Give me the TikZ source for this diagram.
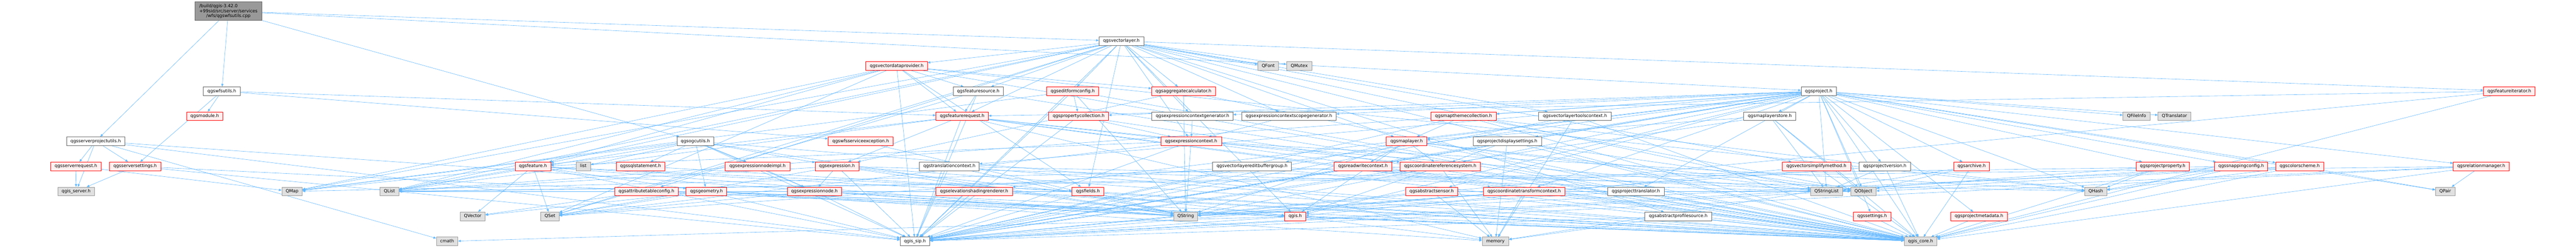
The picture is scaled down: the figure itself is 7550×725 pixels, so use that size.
\documentclass[tikz,border=0pt]{standalone}
\usepackage{fontspec}
\setmainfont{DejaVu Sans}
\usepackage{xcolor}
\usetikzlibrary{arrows.meta,backgrounds}
\definecolor{edgeBlue}{HTML}{63B8FF}
\definecolor{cutRed}{HTML}{FF0000}
\definecolor{cutFill}{HTML}{FFF0F0}
\definecolor{sysFill}{HTML}{E0E0E0}
\definecolor{sysLine}{HTML}{999999}
\definecolor{incLine}{HTML}{666666}
\tikzset{
incbox/.style = {rectangle, draw=incLine, fill=white, line width=1pt,
                 minimum width=#1, minimum height=25.4, inner sep=0pt,
                 text height=9.6pt, text depth=2.9pt},
incbox/.default = 100 % box width in px
}
\tikzset{
cutbox/.style = {incbox=#1, draw=cutRed, fill=cutFill},
cutbox/.default = 100,
sysbox/.style = {incbox=#1, draw=sysLine, fill=sysFill},
sysbox/.default = 60
}
\tikzset{
srcbox/.style = {rectangle, draw=incLine, fill=sysLine, line width=1pt,
                 minimum width=195, minimum height=54.6, inner sep=0pt, align=center}
}
\tikzset{
dep/.style = {-{Triangle[length=8pt,width=6.5pt]}, edgeBlue, line width=0.9pt}
}

\begin{document}
\begin{tikzpicture}[x=1pt, y=-1pt, font=\fontsize{12.85}{14.8}\selectfont]
  \begin{scope}[on background layer]
    \fill[white] (0,0) rectangle (7550,725);
  \end{scope}
  \useasboundingbox (0,0) rectangle (7550,725);

  % rank 0 and 1
  \node[srcbox] (wfsUtilsCpp) at (669.5,32.8) {\rlap{/build/qgis-3.42.0}\phantom{+99sid/src/server/services}\\+99sid/src/server/services\\/wfs/qgswfsutils.cpp};
  \node[incbox=131] (vectorLayer) at (3286.5,120.4) {qgsvectorlayer.h};

  % rank 2
  \node[cutbox=180] (vectorDataProvider) at (2628,193.5) {qgsvectordataprovider.h};
  \node[sysbox=60] (qFont) at (3717,193.5) {QFont};
  \node[sysbox=74] (qMutex) at (3808,193.5) {QMutex};

  % rank 3
  \node[incbox=108] (wfsUtils) at (650,267) {qgswfsutils.h};
  \node[incbox=146] (featureSource) at (2867,267) {qgsfeaturesource.h};
  \node[cutbox=152] (editFormConfig) at (3144,267) {qgseditformconfig.h};
  \node[cutbox=187] (aggregateCalc) at (3468.5,267) {qgsaggregatecalculator.h};
  \node[incbox=103] (project) at (5330.5,267) {qgsproject.h};
  \node[cutbox=151] (featureIterator) at (7354.5,267) {qgsfeatureiterator.h};

  % rank 4
  \node[cutbox=106] (module) at (600,340.3) {qgsmodule.h};
  \node[cutbox=154] (featureRequest) at (2820,340.3) {qgsfeaturerequest.h};
  \node[cutbox=175] (propertyCollection) at (3161.5,340.3) {qgspropertycollection.h};
  \node[incbox=238] (exprCtxGen) at (3495,340.3) {qgsexpressioncontextgenerator.h};
  \node[incbox=277] (exprCtxScopeGen) at (3777.5,340.3) {qgsexpressioncontextscopegenerator.h};
  \node[cutbox=191] (mapThemeColl) at (4289.5,340.3) {qgsmapthemecollection.h};
  \node[incbox=212] (vlToolsCtx) at (4616,340.3) {qgsvectorlayertoolscontext.h};
  \node[incbox=152] (mapLayerStore) at (5187,340.3) {qgsmaplayerstore.h};
  \node[sysbox=80] (qFileInfo) at (6262,340.3) {QFileInfo};
  \node[sysbox=96] (qTranslator) at (6373,340.3) {QTranslator};

  % rank 5
  \node[incbox=171] (serverProjectUtils) at (280.5,413.5) {qgsserverprojectutils.h};
  \node[incbox=108] (ogcUtils) at (2038,413.5) {qgsogcutils.h};
  \node[cutbox=191] (wfsServiceExc) at (2522.5,413.5) {qgswfsserviceexception.h};
  \node[cutbox=178] (exprContext) at (3491,413.5) {qgsexpressioncontext.h};
  \node[cutbox=119] (mapLayer) at (4122.5,413.5) {qgsmaplayer.h};
  \node[incbox=201] (projDisplaySettings) at (4417.5,413.5) {qgsprojectdisplaysettings.h};

  % rank 6
  \node[cutbox=147] (serverRequest) at (222.5,487.1) {qgsserverrequest.h};
  \node[cutbox=152] (serverSettings) at (396,487.1) {qgsserversettings.h};
  \node[cutbox=104] (feature) at (1562,487.1) {qgsfeature.h};
  \node[sysbox=43] (stdList) at (1709.5,487.1) {list};
  \node[cutbox=143] (sqlStatement) at (1877.5,487.1) {qgssqlstatement.h};
  \node[cutbox=190] (exprNodeImpl) at (2220,487.1) {qgsexpressionnodeimpl.h};
  \node[cutbox=128] (expression) at (2453,487.1) {qgsexpression.h};
  \node[incbox=175] (translationCtx) at (2782.5,487.1) {qgstranslationcontext.h};
  \node[incbox=231] (vlEditBufferGroup) at (3669.5,487.1) {qgsvectorlayereditbuffergroup.h};
  \node[cutbox=169] (readWriteCtx) at (3994.5,487.1) {qgsreadwritecontext.h};
  \node[cutbox=236] (crs) at (4221,487.1) {qgscoordinatereferencesystem.h};
  \node[cutbox=201] (vectorSimplify) at (5323.5,487.1) {qgsvectorsimplifymethod.h};
  \node[incbox=150] (projectVersion) at (5524,487.1) {qgsprojectversion.h};
  \node[cutbox=105] (archive) at (5778.5,487.1) {qgsarchive.h};
  \node[cutbox=155] (projectProperty) at (6338.5,487.1) {qgsprojectproperty.h};
  \node[cutbox=155] (snappingConfig) at (6568.5,487.1) {qgssnappingconfig.h};
  \node[cutbox=140] (colorScheme) at (6740,487.1) {qgscolorscheme.h};
  \node[cutbox=164] (relationManager) at (7272,487.1) {qgsrelationmanager.h};

  % rank 7
  \node[sysbox=108] (qgisServer) at (223,560.6) {qgis\_server.h};
  \node[sysbox=60] (qMap) at (856,560.6) {QMap};
  \node[sysbox=55] (qList) at (1141.5,560.6) {QList};
  \node[cutbox=185] (attrTableConfig) at (1894.5,560.6) {qgsattributetableconfig.h};
  \node[cutbox=119] (geometry) at (2070.5,560.6) {qgsgeometry.h};
  \node[cutbox=160] (exprNode) at (2387,560.6) {qgsexpressionnode.h};
  \node[cutbox=224] (elevationShading) at (2855,560.6) {qgselevationshadingrenderer.h};
  \node[cutbox=93] (fields) at (3188.5,560.6) {qgsfields.h};
  \node[cutbox=152] (abstractSensor) at (4196,560.6) {qgsabstractsensor.h};
  \node[cutbox=238] (ctContext) at (4467,560.6) {qgscoordinatetransformcontext.h};
  \node[incbox=165] (projectTranslator) at (4794.5,560.6) {qgsprojecttranslator.h};
  \node[sysbox=93] (qStringList) at (5353.5,560.6) {QStringList};
  \node[sysbox=75] (qObject) at (5461.5,560.6) {QObject};
  \node[sysbox=65] (qHash) at (6142.5,560.6) {QHash};
  \node[sysbox=57] (qPair) at (7166.5,560.6) {QPair};

  % rank 8
  \node[sysbox=73] (qVector) at (1385.5,633.6) {QVector};
  \node[sysbox=54] (qSet) at (1612,633.6) {QSet};
  \node[sysbox=70] (qString) at (3475,633.6) {QString};
  \node[cutbox=62] (qgisH) at (3796,633.6) {qgis.h};
  \node[incbox=195] (abstractProfileSource) at (4918.5,633.6) {qgsabstractprofilesource.h};
  \node[cutbox=110] (settings) at (5487,633.6) {qgssettings.h};
  \node[cutbox=166] (projectMetadata) at (5800,633.6) {qgsprojectmetadata.h};

  % rank 9
  \node[sysbox=63] (cmath) at (1310.5,706.9) {cmath};
  \node[incbox=87] (qgisSip) at (2681.5,706.9) {qgis\_sip.h};
  \node[sysbox=78] (memory) at (4383,706.9) {memory};
  \node[sysbox=96] (qgisCore) at (5629,706.9) {qgis\_core.h};

  % include edges, one path per including file
  \begin{scope}[on background layer]
    \draw[dep] (wfsUtilsCpp) edge (wfsUtils) edge (serverProjectUtils) edge (ogcUtils) edge (vectorLayer) edge (project);
    \draw[dep] (wfsUtils) edge (module) edge (serverSettings) edge (featureRequest) edge (wfsServiceExc);
    \draw[dep] (serverProjectUtils) edge (serverRequest) edge (serverSettings) edge (qgisServer) edge (qgisSip) edge (qString) edge (cmath);
    \draw[dep] (serverRequest) edge (qgisServer) edge (qMap);
    \draw[dep] (serverSettings) edge (qgisServer) edge (qString) edge (qgisSip);
    \draw[dep] (vectorLayer) edge (vectorDataProvider) edge (qFont) edge (qMutex) edge (featureSource) edge (editFormConfig)
      edge (aggregateCalc) edge (featureIterator) edge (featureRequest) edge (exprCtxGen) edge (exprCtxScopeGen)
      edge (exprContext) edge (vlToolsCtx) edge (mapLayer) edge (feature) edge (fields) edge (vectorSimplify)
      edge (attrTableConfig) edge (abstractProfileSource) edge (qgisH) edge (qMap) edge (qSet) edge (qList)
      edge (qStringList) edge (qgisCore) edge (qgisSip);
    \draw[dep] (vectorDataProvider) edge (featureSource) edge (featureRequest) edge (aggregateCalc) edge (feature) edge (fields)
      edge (qSet) edge (qMap) edge (qHash) edge (qList) edge (qgisCore) edge (qgisSip);
    \draw[dep] (featureSource) edge (featureRequest) edge (qSet) edge (qgisCore) edge (qgisSip);
    \draw[dep] (editFormConfig) edge (propertyCollection) edge (qMap) edge (qString) edge (qgisCore) edge (qgisSip);
    \draw[dep] (aggregateCalc) edge (expression) edge (qString) edge (qgisCore);
    \draw[dep] (project) edge (qFileInfo) edge (qTranslator) edge (mapLayerStore) edge (mapThemeColl) edge (mapLayer)
      edge (projDisplaySettings) edge (crs) edge (ctContext) edge (readWriteCtx) edge (translationCtx)
      edge (projectTranslator) edge (projectVersion) edge (archive) edge (settings) edge (projectMetadata)
      edge (projectProperty) edge (snappingConfig) edge (colorScheme) edge (relationManager) edge (qPair)
      edge (qHash) edge (qStringList) edge (qObject) edge (qList) edge (qgisCore) edge (qgisSip) edge (qgisH)
      edge (exprCtxGen) edge (exprCtxScopeGen) edge (propertyCollection) edge (vlEditBufferGroup)
      edge (elevationShading) edge (abstractSensor);
    \draw[dep] (featureIterator) edge (featureRequest) edge (qgisCore) edge (qgisSip);
    \draw[dep] (featureRequest) edge (feature) edge (expression) edge (exprContext) edge (crs) edge (ctContext)
      edge (qList) edge (memory) edge (qgisCore) edge (qgisSip);
    \draw[dep] (propertyCollection) edge (exprContext) edge (qgisCore) edge (qgisSip);
    \draw[dep] (exprCtxGen) edge (exprContext);
    \draw[dep] (exprCtxScopeGen) edge (exprContext);
    \draw[dep] (mapThemeColl) edge (mapLayer) edge (qObject) edge (qHash) edge (qgisCore) edge (qgisSip);
    \draw[dep] (vlToolsCtx) edge (memory) edge (qgisCore) edge (qgisSip);
    \draw[dep] (mapLayerStore) edge (mapLayer) edge (qObject) edge (qStringList) edge (qgisCore) edge (qgisSip);
    \draw[dep] (ogcUtils) edge (sqlStatement) edge (exprNodeImpl) edge (expression) edge (geometry) edge (exprNode)
      edge (stdList) edge (qMap) edge (qList) edge (qString) edge (qgisCore) edge (qgisSip);
    \draw[dep] (wfsServiceExc) edge (qString);
    \draw[dep] (exprContext) edge (feature) edge (qString) edge (qStringList) edge (qSet) edge (qHash) edge (qgisCore) edge (qgisSip);
    \draw[dep] (mapLayer) edge (readWriteCtx) edge (crs) edge (qObject) edge (qStringList) edge (qString) edge (qgisH)
      edge (qgisCore) edge (qgisSip);
    \draw[dep] (projDisplaySettings) edge (crs) edge (qObject) edge (memory) edge (qgisCore) edge (qgisSip);
    \draw[dep] (feature) edge (qVector) edge (qSet) edge (qList) edge (qMap) edge (qString) edge (fields) edge (geometry)
      edge (qgisCore) edge (qgisSip);
    \draw[dep] (sqlStatement) edge (qgisCore);
    \draw[dep] (exprNodeImpl) edge (exprNode);
    \draw[dep] (expression) edge (exprNode) edge (qString) edge (qStringList) edge (qSet) edge (qList) edge (qgisH)
      edge (qgisCore) edge (qgisSip);
    \draw[dep] (translationCtx) edge (qgisSip) edge (qgisCore) edge (qString) edge (qHash);
    \draw[dep] (vlEditBufferGroup) edge (qObject) edge (qSet) edge (qgisCore) edge (qgisSip);
    \draw[dep] (readWriteCtx) edge (qgisCore) edge (qgisSip);
    \draw[dep] (crs) edge (qMap) edge (qString) edge (qgisH) edge (memory) edge (qgisCore) edge (qgisSip);
    \draw[dep] (vectorSimplify) edge (qgisH) edge (qgisCore);
    \draw[dep] (projectVersion) edge (qString) edge (qStringList) edge (qgisCore);
    \draw[dep] (archive) edge (qObject) edge (memory) edge (qgisCore);
    \draw[dep] (projectProperty) edge (qHash) edge (qStringList) edge (qgisCore);
    \draw[dep] (snappingConfig) edge (qHash) edge (qList) edge (qgisCore) edge (qgisSip);
    \draw[dep] (colorScheme) edge (qPair) edge (qHash) edge (qString) edge (qgisCore) edge (qgisSip);
    \draw[dep] (relationManager) edge (qPair) edge (qList) edge (qObject) edge (qgisCore) edge (qgisSip);
    \draw[dep] (attrTableConfig) edge (qVector) edge (qgisCore);
    \draw[dep] (geometry) edge (qVector) edge (qSet) edge (qList) edge (qString) edge (qgisH) edge (memory)
      edge (qgisCore) edge (qgisSip);
    \draw[dep] (exprNode) edge (qSet) edge (qList) edge (qString) edge (qgisCore) edge (qgisSip);
    \draw[dep] (elevationShading) edge (qgisCore) edge (qgisSip);
    \draw[dep] (fields) edge (qString) edge (qList) edge (qgisCore) edge (qgisSip);
    \draw[dep] (abstractSensor) edge (qObject) edge (memory) edge (qgisCore) edge (qgisSip);
    \draw[dep] (ctContext) edge (qString) edge (memory) edge (qgisCore) edge (qgisSip);
    \draw[dep] (projectTranslator) edge (qString) edge (qgisCore);
    \draw[dep] (qgisH) edge (cmath) edge (memory) edge (qgisCore) edge (qgisSip);
    \draw[dep] (abstractProfileSource) edge (memory) edge (qgisCore) edge (qgisSip);
    \draw[dep] (settings) edge (qgisCore);
    \draw[dep] (projectMetadata) edge (qgisCore);
  \end{scope}
\end{tikzpicture}
\end{document}
